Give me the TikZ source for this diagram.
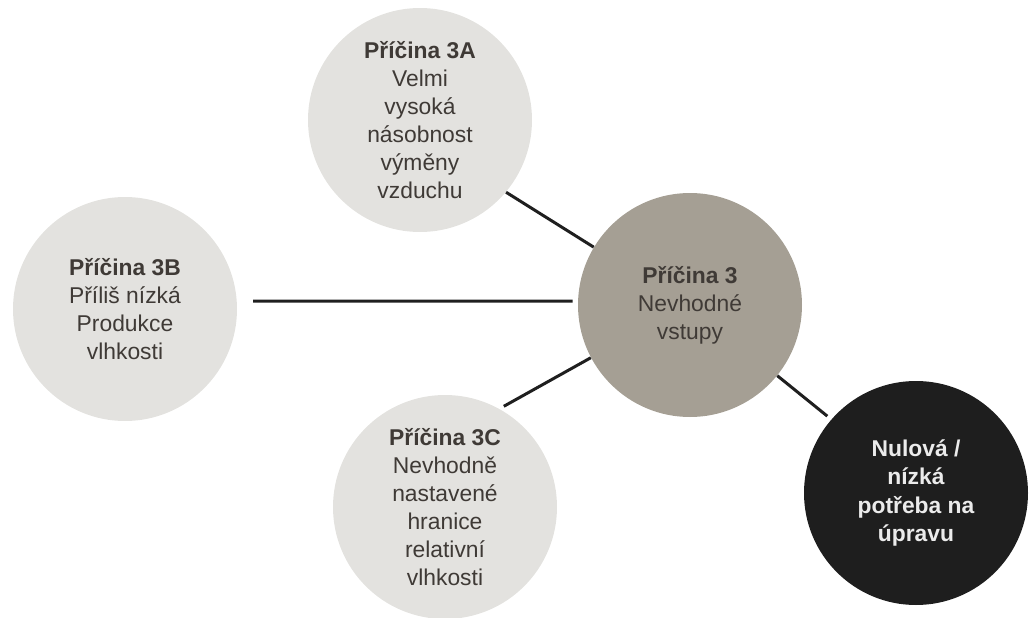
\documentclass[tikz,border=0pt]{standalone}
\usepackage{fontspec}
\setmainfont{Liberation Sans}
\definecolor{causegray}{HTML}{E3E2DF}
\definecolor{maingray}{HTML}{A59F94}
\definecolor{outblack}{HTML}{1E1E1E}
\definecolor{textdark}{HTML}{3F3A36}
\definecolor{linkblack}{HTML}{1F1F1F}
\tikzstyle{cause}=[circle, minimum size=4.48cm, inner sep=0pt, align=center, fill=causegray, text=textdark, font=\fontsize{13}{16}\selectfont]
\tikzstyle{main cause}=[cause, fill=maingray]
\tikzstyle{outcome}=[cause, fill=outblack, text=white!92!black, font=\fontsize{13}{16}\selectfont\bfseries]
\tikzstyle{link}=[line width=1.7pt, draw=linkblack]

\begin{document}
\begin{tikzpicture}
      \useasboundingbox (0, 0) rectangle (20.6, 12.34);
      \node[main cause] (cause) at (13.8, 6.24) {\textbf{Příčina 3}\\Nevhodné\\vstupy};
      \node[cause] (a) at (8.4, 9.94) {\textbf{Příčina 3A}\\Velmi\\vysoká\\násobnost\\výměny\\vzduchu};
      \node[cause] (b) at (2.5, 6.16) {\textbf{Příčina 3B}\\Příliš nízká\\Produkce\\vlhkosti};
      \node[cause] (c) at (8.9, 2.2) {\textbf{Příčina 3C}\\Nevhodně\\nastavené\\hranice\\relativní\\vlhkosti};
      \node[outcome] (out) at (18.32, 2.48) {Nulová /\\nízká\\potřeba na\\úpravu};
      \draw[link] (a.-40) -- (cause.149);
      \draw[link, shorten <=0.32cm, shorten >=0.1cm] (b.4) -- (cause.178);
      \draw[link, shorten <=0.1cm] (c.61) -- (cause.208);
      \draw[link, shorten >=0.1cm] (cause.-39) -- (out.139);
    \end{tikzpicture}
\end{document}
